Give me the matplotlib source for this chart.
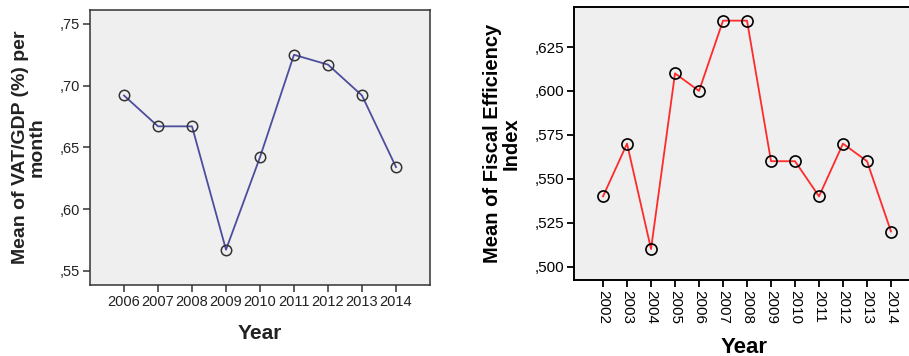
import matplotlib
matplotlib.use("Agg")
import matplotlib.pyplot as plt
from matplotlib.ticker import FuncFormatter

plt.rcParams['font.family'] = ['Liberation Sans', 'DejaVu Sans']

# left chart data
vat_years = ['2006', '2007', '2008', '2009', '2010', '2011', '2012', '2013', '2014']
vat_gdp = [0.692, 0.667, 0.667, 0.567, 0.642, 0.725, 0.717, 0.692, 0.634]
vat_ticks = [0.55, 0.60, 0.65, 0.70, 0.75]

# right chart data
fei_years = ['2002', '2003', '2004', '2005', '2006', '2007', '2008',
             '2009', '2010', '2011', '2012', '2013', '2014']
fei_values = [0.54, 0.57, 0.51, 0.61, 0.60, 0.64, 0.64,
              0.56, 0.56, 0.54, 0.57, 0.56, 0.52]
fei_ticks = [0.500, 0.525, 0.550, 0.575, 0.600, 0.625]

bg = '#efefef'


def comma_fmt(ndig):
    def f(v, pos):
        return ('%.*f' % (ndig, v))[1:].replace('.', ',')
    return FuncFormatter(f)


fig = plt.figure(figsize=(9.09, 3.56), dpi=100)

# ---- left panel
ax1 = fig.add_axes([90 / 909, 71 / 356, 340 / 909, 275 / 356])
ax1.set_facecolor(bg)
x1 = range(len(vat_years))
ax1.plot(x1, vat_gdp, color='#4d4d9e', lw=1.3, marker='o', ms=7.5,
         mfc='none', mec='#333333', mew=1.1)
ax1.set_xlim(-1, len(vat_years))
ax1.set_ylim(0.5384, 0.7613)
ax1.set_xticks(list(x1))
ax1.set_xticklabels(vat_years, fontsize=10.5, color='#222222')
ax1.set_yticks(vat_ticks)
ax1.yaxis.set_major_formatter(comma_fmt(2))
ax1.tick_params(axis='y', labelsize=10.5, labelcolor='#222222')
ax1.tick_params(length=5, width=1.1, color='#333333', pad=2)
for s in ax1.spines.values():
    s.set_color('#333333')
    s.set_linewidth(1.1)
ax1.set_ylabel('Mean of VAT/GDP (%) per\nmonth', fontsize=14, fontweight='bold',
               color='#222222', linespacing=1.0)
ax1.yaxis.set_label_coords(-0.18, 0.5)
ax1.yaxis.label.set_va('center')
ax1.set_xlabel('Year', fontsize=15, fontweight='bold', color='#222222')
ax1.xaxis.set_label_coords(0.5, -0.175)
ax1.xaxis.label.set_va('center')

# ---- right panel
ax2 = fig.add_axes([574 / 909, 76 / 356, 341 / 909, 272.7 / 356])
ax2.set_facecolor(bg)
x2 = range(len(fei_years))
ax2.plot(x2, fei_values, color='#ff2b2b', lw=1.3, marker='o', ms=8,
         mfc='none', mec='black', mew=1.2)
ax2.set_xlim(-1.21, 13)
ax2.set_ylim(0.4924, 0.6476)
ax2.set_xticks(list(x2))
ax2.set_xticklabels(fei_years, fontsize=11, rotation=270)
ax2.set_yticks(fei_ticks)
ax2.yaxis.set_major_formatter(comma_fmt(3))
ax2.tick_params(axis='y', labelsize=11)
ax2.tick_params(length=5, width=1.3, color='black', pad=2)
for s in ax2.spines.values():
    s.set_color('black')
    s.set_linewidth(1.4)
ax2.set_ylabel('Mean of Fiscal Efficiency\nIndex', fontsize=14.5, fontweight='bold',
               linespacing=1.0)
ax2.yaxis.set_label_coords(-0.211, 0.5)
ax2.yaxis.label.set_va('center')
ax2.set_xlabel('Year', fontsize=16, fontweight='bold')
ax2.xaxis.set_label_coords(0.5, -0.246)
ax2.xaxis.label.set_va('center')

fig.savefig('out.png', dpi=100)
